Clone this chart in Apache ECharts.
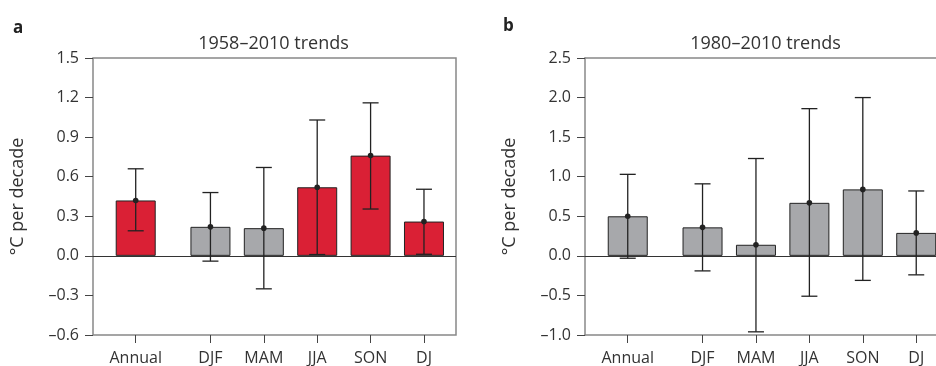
<!DOCTYPE html>
<html><head><meta charset="utf-8">
<script src="https://cdn.jsdelivr.net/npm/echarts@6/dist/echarts.min.js"></script>
<style>html,body{margin:0;padding:0;background:#fff}#c{width:936px;height:366px}</style>
</head><body><div id="c"></div>
<script>
const categories = ['Annual', 'DJF', 'MAM', 'JJA', 'SON', 'DJ'];
// Panel a: 1958–2010 trends (°C per decade)
const trendA = [0.42, 0.22, 0.21, 0.52, 0.76, 0.26];
const lowA   = [0.19, -0.04, -0.25, 0.01, 0.355, 0.012];
const highA  = [0.66, 0.48, 0.67, 1.03, 1.16, 0.505];
const significantA = [true, false, false, true, true, true];
const yTicksA = [-0.6, -0.3, 0.0, 0.3, 0.6, 0.9, 1.2, 1.5];
// Panel b: 1980–2010 trends (°C per decade)
const trendB = [0.50, 0.36, 0.14, 0.67, 0.84, 0.29];
const lowB   = [-0.03, -0.19, -0.96, -0.51, -0.31, -0.24];
const highB  = [1.03, 0.91, 1.23, 1.86, 2.00, 0.82];
const significantB = [false, false, false, false, false, false];
const yTicksB = [-1.0, -0.5, 0.0, 0.5, 1.0, 1.5, 2.0, 2.5];

const FONT = 'Open Sans';
const TXT = '#333';
const RED = '#da2035';
const GREY = '#a7a8ab';
const FRAME = '#888';
const GAP = 0.4; // extra space after "Annual"
const pos = categories.map((c, i) => i === 0 ? 0 : i + GAP);

function fmtY(v) {
  const s = Math.abs(v).toFixed(1);
  return (v < -1e-9 ? '\u2013' : '') + s;
}
function fmtX(v) {
  const i = pos.findIndex(p => Math.abs(p - v) < 1e-6);
  return i >= 0 ? categories[i] : '';
}
function renderErr(params, api) {
  const x = api.value(0);
  const pV = api.coord([x, api.value(1)]);
  const pLo = api.coord([x, api.value(2)]);
  const pHi = api.coord([x, api.value(3)]);
  const cap = 8;
  const st = { stroke: '#222', lineWidth: 1.3 };
  return {
    type: 'group', children: [
      { type: 'line', shape: { x1: pHi[0], y1: pHi[1], x2: pLo[0], y2: pLo[1] }, style: st },
      { type: 'line', shape: { x1: pHi[0] - cap, y1: pHi[1], x2: pHi[0] + cap, y2: pHi[1] }, style: st },
      { type: 'line', shape: { x1: pLo[0] - cap, y1: pLo[1], x2: pLo[0] + cap, y2: pLo[1] }, style: st },
      { type: 'circle', shape: { cx: pV[0], cy: pV[1], r: 2.8 }, style: { fill: '#222' } }
    ]
  };
}

function xAxisCfg(idx, max, showLine) {
  return {
    type: 'value', gridIndex: idx, min: -0.8, max: max,
    axisLine: { show: showLine, onZero: false, lineStyle: { color: FRAME, width: 1.5 } },
    splitLine: { show: false },
    axisTick: { show: true, customValues: pos, length: 8, lineStyle: { color: '#444', width: 1 } },
    axisLabel: { customValues: pos, formatter: fmtX, margin: 15, fontSize: 16, fontFamily: FONT, color: TXT }
  };
}
function topLineAxis(idx, max) {
  return {
    type: 'value', gridIndex: idx, position: 'top', min: -0.8, max: max,
    axisLine: { show: true, onZero: false, lineStyle: { color: FRAME, width: 1.5 } },
    splitLine: { show: false }, axisTick: { show: false }, axisLabel: { show: false }
  };
}
function yAxisCfg(idx, ticks, showLine) {
  return {
    type: 'value', gridIndex: idx,
    min: ticks[0], max: ticks[ticks.length - 1], interval: ticks[1] - ticks[0],
    axisLine: { show: showLine, onZero: false, lineStyle: { color: FRAME, width: 1.5 } },
    splitLine: { show: false },
    axisTick: { show: true, length: 8, lineStyle: { color: '#444', width: 1 } },
    axisLabel: { formatter: fmtY, margin: 14, fontSize: 16, fontFamily: FONT, color: TXT },
    name: '\u00B0C per decade', nameLocation: 'middle', nameGap: 66,
    nameTextStyle: { fontSize: 18, fontFamily: FONT, color: TXT }
  };
}
function barSeries(idx, trend, sig) {
  return {
    type: 'bar', xAxisIndex: idx, yAxisIndex: idx, barWidth: 40,
    data: trend.map((v, i) => ({ value: [pos[i], v], itemStyle: { color: sig[i] ? RED : GREY } })),
    itemStyle: { borderColor: '#222', borderWidth: 1 },
    silent: true,
    markLine: {
      silent: true, symbol: 'none', label: { show: false },
      lineStyle: { color: '#333', width: 1, type: 'solid' },
      data: [{ yAxis: 0 }]
    }
  };
}
function errSeries(idx, trend, low, high) {
  return {
    type: 'custom', xAxisIndex: idx, yAxisIndex: idx, z: 5, silent: true,
    renderItem: renderErr,
    encode: { x: 0, y: [1, 2, 3] },
    data: trend.map((v, i) => [pos[i], v, low[i], high[i]])
  };
}

const chart = echarts.init(document.getElementById('c'), null, { renderer: 'canvas' });
chart.setOption({
  animation: false,
  backgroundColor: '#fff',
  textStyle: { fontFamily: FONT },
  title: [
    { text: 'a', left: 8, top: 15, textStyle: { fontSize: 17, fontWeight: 'bold', color: '#222', fontFamily: FONT } },
    { text: '1958\u20132010 trends', left: 268.5, textAlign: 'center', top: 30, textStyle: { fontSize: 18, fontWeight: 'normal', color: TXT, fontFamily: FONT } },
    { text: 'b', left: 498, top: 13, textStyle: { fontSize: 17, fontWeight: 'bold', color: '#222', fontFamily: FONT } },
    { text: '1980\u20132010 trends', left: 760.5, textAlign: 'center', top: 30, textStyle: { fontSize: 18, fontWeight: 'normal', color: TXT, fontFamily: FONT } }
  ],
  grid: [
    { left: 93, top: 58, width: 363, height: 277, show: true, borderColor: FRAME, borderWidth: 1.5, backgroundColor: 'transparent' },
    { left: 585, top: 58, width: 351, height: 277, show: false }
  ],
  xAxis: [xAxisCfg(0, 6.0, false), xAxisCfg(1, 5.77, true), topLineAxis(1, 5.77)],
  yAxis: [yAxisCfg(0, yTicksA, false), yAxisCfg(1, yTicksB, true)],
  series: [
    barSeries(0, trendA, significantA), errSeries(0, trendA, lowA, highA),
    barSeries(1, trendB, significantB), errSeries(1, trendB, lowB, highB)
  ]
});
</script></body></html>
